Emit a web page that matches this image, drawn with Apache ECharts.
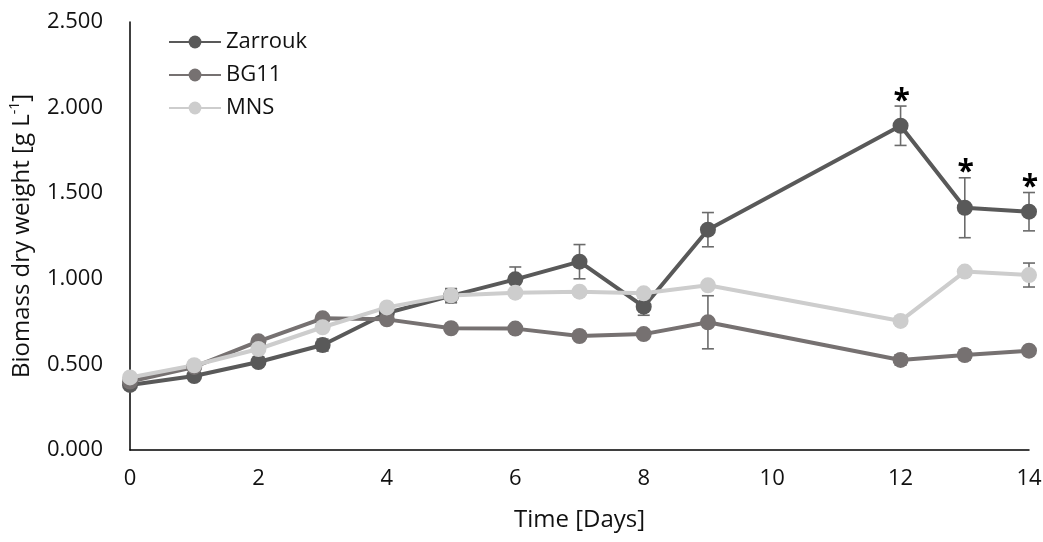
<!DOCTYPE html>
<html>
<head>
<meta charset="utf-8">
<script src="https://cdn.jsdelivr.net/npm/echarts@6/dist/echarts.min.js"></script>
<style>
  html, body { margin: 0; padding: 0; background: #fff; }
  #chart { width: 1043px; height: 542px; }
</style>
</head>
<body>
<div id="chart"></div>
<script>
// Sampling days (no samples on days 10 and 11)
var days = [0, 1, 2, 3, 4, 5, 6, 7, 8, 9, 12, 13, 14];

// Biomass dry weight, g/L
var zarrouk = [0.380, 0.432, 0.514, 0.613, 0.800, 0.900, 0.997, 1.100, 0.837, 1.287, 1.894, 1.415, 1.392];
var bg11 = [0.400, 0.485, 0.635, 0.769, 0.763, 0.711, 0.709, 0.666, 0.677, 0.746, 0.526, 0.555, 0.580];
var mns = [0.424, 0.495, 0.590, 0.717, 0.833, 0.903, 0.919, 0.925, 0.915, 0.962, 0.754, 1.042, 1.022];

// Standard deviations
var zarroukErr = [0.010, 0.010, 0.015, 0.035, 0.015, 0.040, 0.072, 0.100, 0.050, 0.100, 0.115, 0.175, 0.112];
var bg11Err = [0.010, 0.010, 0.015, 0.015, 0.020, 0.015, 0.010, 0.010, 0.010, 0.155, 0.030, 0.030, 0.020];
var mnsErr = [0.010, 0.010, 0.010, 0.015, 0.015, 0.040, 0.010, 0.010, 0.010, 0.010, 0.010, 0.010, 0.070];

// Days with a significant difference (marked with *)
var sigDays = [12, 13, 14];

var yTicks = [0, 0.5, 1, 1.5, 2, 2.5];

var colors = { zarrouk: '#595959', bg11: '#767171', mns: '#cdcdcd' };
var font = '"Open Sans", "Noto Sans", sans-serif';
var textColor = '#111';

function pairs(vals) {
    return days.map(function (d, i) { return [d, vals[i]]; });
}

function errorSeries(vals, errs, marks) {
    var data = days.map(function (d, i) { return [d, vals[i], errs[i]]; });
    return {
        type: 'custom',
        silent: true,
        z: 1,
        data: data,
        renderItem: function (params, api) {
            var x = api.value(0);
            var v = api.value(1);
            var e = api.value(2);
            var top = api.coord([x, v + e]);
            var bot = api.coord([x, v - e]);
            var cap = 6;
            var st = { stroke: '#6b6b6b', lineWidth: 1.6 };
            var children = [
                { type: 'line', shape: { x1: top[0], y1: top[1], x2: bot[0], y2: bot[1] }, style: st },
                { type: 'line', shape: { x1: top[0] - cap, y1: top[1], x2: top[0] + cap, y2: top[1] }, style: st },
                { type: 'line', shape: { x1: bot[0] - cap, y1: bot[1], x2: bot[0] + cap, y2: bot[1] }, style: st }
            ];
            if (marks && marks.indexOf(x) >= 0) {
                children.push({
                    type: 'text',
                    style: {
                        text: '*', x: top[0] + 1, y: top[1] + 10,
                        textAlign: 'center', textVerticalAlign: 'bottom',
                        font: 'bold 30px ' + font, fill: '#000'
                    }
                });
            }
            return { type: 'group', children: children };
        }
    };
}

function lineSeries(name, vals, color) {
    return {
        name: name,
        type: 'line',
        z: 2,
        data: pairs(vals),
        symbol: 'circle',
        symbolSize: 16,
        lineStyle: { color: color, width: 4 },
        itemStyle: { color: color },
        emphasis: { disabled: true }
    };
}

var chart = echarts.init(document.getElementById('chart'));

var option = {
    animation: false,
    textStyle: { fontFamily: font },
    grid: { left: 130, right: 14, top: 22, bottom: 92, outerBoundsMode: 'none' },
    legend: {
        data: ['Zarrouk', 'BG11', 'MNS'],
        orient: 'vertical',
        left: 163,
        top: 26,
        itemWidth: 52,
        itemHeight: 16,
        itemGap: 11,
        textStyle: { fontSize: 22, color: textColor, fontFamily: font }
    },
    xAxis: {
        type: 'value',
        min: 0,
        max: 14,
        interval: 2,
        name: 'Time [Days]',
        nameLocation: 'middle',
        nameGap: 58,
        nameTextStyle: { fontSize: 24, color: textColor },
        axisLine: { lineStyle: { color: '#000', width: 1.5 } },
        axisTick: { show: false },
        axisLabel: { fontSize: 22, color: textColor, margin: 18 },
        splitLine: { show: false }
    },
    yAxis: {
        type: 'value',
        min: yTicks[0],
        max: yTicks[yTicks.length - 1],
        interval: 0.5,
        name: '{a|Biomass dry weight [g L}{s|-1}{a|]}',
        nameLocation: 'middle',
        nameGap: 94,
        nameTextStyle: {
            rich: {
                a: { fontSize: 24, color: textColor, fontFamily: font },
                s: { fontSize: 14, color: textColor, fontFamily: font, verticalAlign: 'top', padding: [0, 0, 14, 0] }
            }
        },
        axisLine: { show: true, lineStyle: { color: '#000', width: 1.5 } },
        axisTick: { show: false },
        axisLabel: {
            fontSize: 22, color: textColor, margin: 27,
            formatter: function (v) { return v.toFixed(3); }
        },
        splitLine: { show: false }
    },
    series: [
        errorSeries(zarrouk, zarroukErr, sigDays),
        errorSeries(bg11, bg11Err, null),
        errorSeries(mns, mnsErr, null),
        lineSeries('Zarrouk', zarrouk, colors.zarrouk),
        lineSeries('BG11', bg11, colors.bg11),
        lineSeries('MNS', mns, colors.mns)
    ]
};

chart.setOption(option);
</script>
</body>
</html>
